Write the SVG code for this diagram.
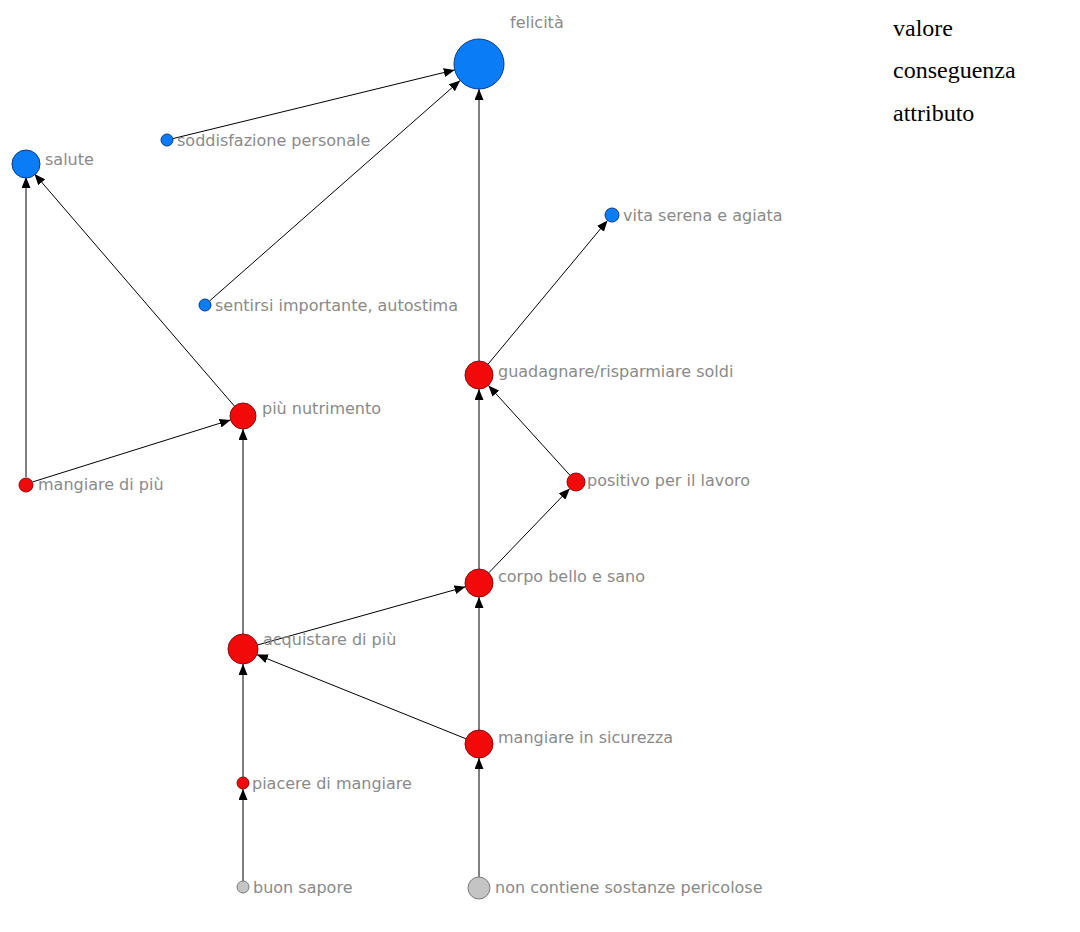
<svg xmlns="http://www.w3.org/2000/svg" width="1080" height="932" viewBox="0 0 1080 932">
  <style>
    .lbl { font-family: "DejaVu Sans", "Liberation Sans", sans-serif; font-size: 16px; fill: #8a8a8a; }
    .leg { font-family: "Liberation Serif", "Times New Roman", serif; font-size: 24px; fill: #000; }
    .val { fill: #0a7cf5; stroke: #0a3a8a; stroke-width: 1; }
    .con { fill: #f20a0a; stroke: #8a0a0a; stroke-width: 1; }
    .att { fill: #c4c4c4; stroke: #7a7a7a; stroke-width: 1; }
    .edge { stroke: #000; stroke-width: 1; fill: none; marker-end: url(#arrow); }
  </style>
  <defs>
    <marker id="arrow" markerUnits="userSpaceOnUse" markerWidth="11" markerHeight="9" refX="11" refY="4.5" orient="auto">
      <path d="M0,0 L11,4.5 L0,9 z" fill="#000"/>
    </marker>
  </defs>
  <rect width="1080" height="932" fill="#fff"/>

  <!-- connectors -->
  <g id="edges">
    <line class="edge" x1="172.8" y1="138.6" x2="454.7" y2="69.9"/>
    <line class="edge" x1="209.5" y1="301" x2="460.2" y2="80.5"/>
    <line class="edge" x1="479" y1="361" x2="479" y2="89"/>
    <line class="edge" x1="488" y1="364.2" x2="607.5" y2="220.4"/>
    <line class="edge" x1="234.5" y1="406.2" x2="34.5" y2="173.9"/>
    <line class="edge" x1="26" y1="477" x2="26" y2="177"/>
    <line class="edge" x1="32.7" y1="481.9" x2="230.6" y2="419.9"/>
    <line class="edge" x1="243" y1="634" x2="243" y2="429"/>
    <line class="edge" x1="570" y1="475.3" x2="488.4" y2="385.4"/>
    <line class="edge" x1="479" y1="569" x2="479" y2="389"/>
    <line class="edge" x1="488.7" y1="572.9" x2="569.8" y2="488.5"/>
    <line class="edge" x1="257.4" y1="645" x2="465.5" y2="586.8"/>
    <line class="edge" x1="466" y1="738.8" x2="256.9" y2="654.6"/>
    <line class="edge" x1="479" y1="730" x2="479" y2="597"/>
    <line class="edge" x1="243" y1="777" x2="243" y2="664"/>
    <line class="edge" x1="243" y1="881" x2="243" y2="789"/>
    <line class="edge" x1="479" y1="877" x2="479" y2="758"/>
  </g>

  <!-- values -->
  <g id="felicita"><circle class="val" cx="479" cy="64" r="25"/><text class="lbl" x="510" y="28">felicità</text></g>
  <g id="salute"><circle class="val" cx="26" cy="164" r="14"/><text class="lbl" x="45" y="165">salute</text></g>
  <g id="soddisfazione"><circle class="val" cx="167" cy="140" r="6"/><text class="lbl" x="177" y="146">soddisfazione personale</text></g>
  <g id="sentirsi"><circle class="val" cx="205" cy="305" r="6"/><text class="lbl" x="215" y="311">sentirsi importante, autostima</text></g>
  <g id="vita-serena"><circle class="val" cx="612" cy="215" r="7"/><text class="lbl" x="623" y="221">vita serena e agiata</text></g>

  <!-- consequences -->
  <g id="guadagnare"><circle class="con" cx="479" cy="375" r="14"/><text class="lbl" x="498" y="377">guadagnare/risparmiare soldi</text></g>
  <g id="nutrimento"><circle class="con" cx="243" cy="416" r="13"/><text class="lbl" x="262" y="414">più nutrimento</text></g>
  <g id="mangiare-piu"><circle class="con" cx="26" cy="485" r="7"/><text class="lbl" x="38" y="490">mangiare di più</text></g>
  <g id="positivo"><circle class="con" cx="576" cy="482" r="9"/><text class="lbl" x="587" y="486">positivo per il lavoro</text></g>
  <g id="corpo"><circle class="con" cx="479" cy="583" r="14"/><text class="lbl" x="498" y="582">corpo bello e sano</text></g>
  <g id="acquistare"><circle class="con" cx="243" cy="649" r="15"/><text class="lbl" x="263" y="645">acquistare di più</text></g>
  <g id="sicurezza"><circle class="con" cx="479" cy="744" r="14"/><text class="lbl" x="498" y="743">mangiare in sicurezza</text></g>
  <g id="piacere"><circle class="con" cx="243" cy="783" r="6"/><text class="lbl" x="252" y="789">piacere di mangiare</text></g>

  <!-- attributes -->
  <g id="buon-sapore"><circle class="att" cx="243" cy="887" r="6"/><text class="lbl" x="253" y="893">buon sapore</text></g>
  <g id="non-contiene"><circle class="att" cx="479" cy="888" r="11"/><text class="lbl" x="495" y="893">non contiene sostanze pericolose</text></g>

  <!-- legend -->
  <g id="legend">
    <text class="leg" x="893" y="36">valore</text>
    <text class="leg" x="893" y="78">conseguenza</text>
    <text class="leg" x="893" y="121">attributo</text>
  </g>
</svg>
